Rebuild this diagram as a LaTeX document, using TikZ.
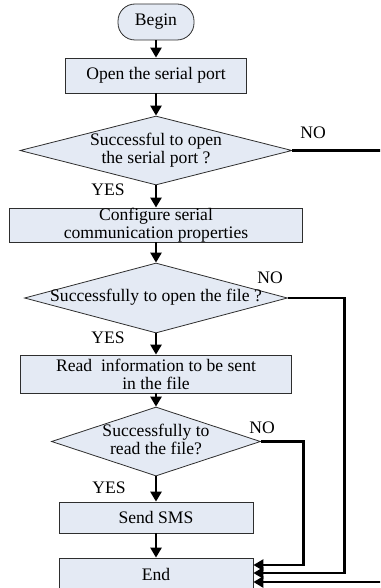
\documentclass[tikz,border=0pt]{standalone}
\usepackage{fontspec}
\setmainfont{Liberation Serif}
\usetikzlibrary{shapes.geometric, arrows.meta}

% text of a decision box takes no width, so the diamond keeps its own size
\newcommand{\decText}[1]{\makebox[0pt]{\begin{tabular}{@{}c@{}}#1\end{tabular}}}

\begin{document}
\begin{tikzpicture}[x=1pt, y=-1pt,
    baseFont/.style={font=\fontsize{17.6}{18}\selectfont},
    terminal/.style={rectangle, rounded corners=17pt, draw=borderColour, fill=fillColour, line width=0.8pt, inner sep=0pt, baseFont},
    process/.style={rectangle, draw=borderColour, fill=fillColour, line width=0.8pt, inner sep=0pt, align=center, baseFont},
    decision/.style={diamond, draw=borderColour, fill=fillColour, line width=0.8pt, inner sep=0pt, baseFont},
    answer/.style={inner sep=0pt, baseFont},
    flow/.style={line width=2.9pt, -{Triangle[length=10pt, width=11pt]}}]
    % Define colours
    \definecolor{borderColour}{HTML}{2E2E2E}
    \definecolor{fillColour}{HTML}{E4EAF4}

    % Page frame
    \useasboundingbox (0,0) rectangle (380,588);
    \clip (0,0) rectangle (380,588);

    % Boxes
    \node[terminal, minimum width=76pt, minimum height=36pt] (begin) at (156,22) {Begin};
    \node[process, minimum width=181pt, minimum height=35pt] (open) at (156,75.5) {Open the serial port};
    \node[decision, minimum width=272pt, minimum height=69pt] (decA) at (156,150.5) {\decText{Successful to open\\the serial port ?}};
    \node[process, minimum width=293pt, minimum height=34pt] (config) at (156,225) {Configure serial\\communication properties};
    \node[decision, minimum width=263pt, minimum height=70pt] (decB) at (156,298) {\decText{Successfully to open the file ?}};
    \node[process, minimum width=271pt, minimum height=38pt] (read) at (156,374) {Read\ \ information to be sent\\in the file};
    \node[decision, minimum width=209pt, minimum height=69pt] (decC) at (156,441.5) {\decText{Successfully to\\read the file?}};
    \node[process, minimum width=194pt, minimum height=31pt] (send) at (156,517.5) {Send SMS};
    \node[process, minimum width=194pt, minimum height=32pt] (endBox) at (156,574) {End};

    % Answers
    \node[answer] (noA) at (313,133) {NO};
    \node[answer] (noB) at (270,278) {NO};
    \node[answer] (noC) at (262,428) {NO};
    \node[answer] (yesA) at (108,190) {YES};
    \node[answer] (yesB) at (108,338) {YES};
    \node[answer] (yesC) at (109,488) {YES};

    % Main flow
    \draw[flow] (begin) -- (open);
    \draw[flow] (open) -- (decA);
    \draw[flow] (decA) -- (config);
    \draw[flow] (config) -- (decB);
    \draw[flow] (decB) -- (read);
    \draw[flow] (read) -- (decC);
    \draw[flow] (decC) -- (send);
    \draw[flow] (send) -- (endBox);

    % NO branches into End
    \draw[flow] (decC.east) -- ++(43,0) |- ([yshift=9pt]endBox.east);
    \draw[flow] (decB.east) -- ++(57,0) |- ([yshift=1pt]endBox.east);
    \draw[flow] (decA.east) -- ++(110,0) |- ([yshift=-8pt]endBox.east);

\end{tikzpicture}
\end{document}
